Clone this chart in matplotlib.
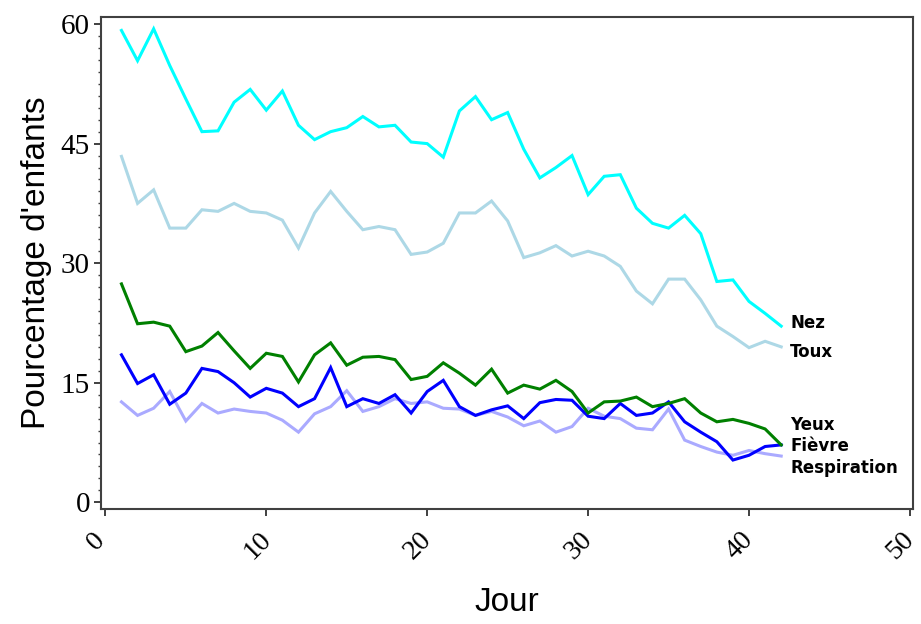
import matplotlib
matplotlib.use("Agg")
import matplotlib.pyplot as plt
from matplotlib.ticker import MultipleLocator
from matplotlib.transforms import ScaledTranslation

jours = list(range(1, 43))

nez = [59.2, 55.4, 59.4, 54.8, 50.6, 46.5, 46.6, 50.2, 51.8, 49.2,
       51.6, 47.3, 45.5, 46.5, 47.0, 48.4, 47.1, 47.3, 45.2, 45.0,
       43.3, 49.1, 50.9, 48.0, 48.9, 44.3, 40.7, 42.0, 43.5, 38.6,
       40.9, 41.1, 36.9, 35.0, 34.4, 36.0, 33.7, 27.7, 27.9, 25.2, 23.7, 22.1]
toux = [43.4, 37.5, 39.2, 34.4, 34.4, 36.7, 36.5, 37.5, 36.5, 36.3,
        35.4, 31.9, 36.3, 39.0, 36.5, 34.2, 34.6, 34.2, 31.1, 31.4,
        32.5, 36.3, 36.3, 37.8, 35.3, 30.7, 31.3, 32.2, 30.9, 31.5,
        30.9, 29.6, 26.5, 24.9, 28.0, 28.0, 25.4, 22.1, 20.8, 19.4, 20.2, 19.5]
yeux = [27.4, 22.4, 22.6, 22.1, 18.9, 19.6, 21.3, 19.0, 16.8, 18.7,
        18.3, 15.1, 18.5, 20.0, 17.2, 18.2, 18.3, 17.9, 15.4, 15.8,
        17.5, 16.2, 14.7, 16.7, 13.7, 14.7, 14.2, 15.3, 13.9, 11.2,
        12.6, 12.7, 13.2, 12.0, 12.4, 13.0, 11.2, 10.1, 10.4, 9.9, 9.2, 7.2]
fievre = [18.5, 14.9, 16.0, 12.3, 13.7, 16.8, 16.4, 15.0, 13.2, 14.3,
          13.7, 12.0, 13.0, 16.9, 12.0, 13.0, 12.4, 13.5, 11.2, 13.9,
          15.3, 12.0, 10.9, 11.6, 12.1, 10.5, 12.5, 12.9, 12.8, 10.8,
          10.5, 12.4, 10.9, 11.2, 12.6, 10.1, 8.8, 7.6, 5.3, 5.9, 7.0, 7.2]
respiration = [12.6, 10.9, 11.8, 13.9, 10.2, 12.4, 11.2, 11.7, 11.4, 11.2,
               10.3, 8.8, 11.1, 12.0, 14.0, 11.4, 12.0, 13.0, 12.4, 12.6,
               11.8, 11.7, 10.9, 11.4, 10.7, 9.6, 10.2, 8.8, 9.5, 11.8,
               10.8, 10.5, 9.3, 9.1, 11.7, 7.8, 7.0, 6.3, 5.9, 6.5, 6.1, 5.8]

series = [
    ("Toux", toux, "#ADD8E6", 18.85),
    ("Nez", nez, "#00FFFF", 22.5),
    ("Respiration", respiration, "#AAAAFF", 4.3),
    ("Fièvre", fievre, "#0000FF", 7.1),
    ("Yeux", yeux, "#008000", 9.7),
]

fig = plt.figure(figsize=(9.21, 6.24), dpi=100)
ax = fig.add_axes([0.1097, 0.1838, 0.8816, 0.7894])

for nom, vals, couleur, y_lab in series:
    ax.plot(jours, vals, color=couleur, linewidth=2.2, solid_joinstyle="miter")
    ax.text(42.55, y_lab, nom, fontsize=12, fontweight="bold",
            family="DejaVu Sans", va="center", ha="left")

ax.set_xlim(-0.27, 50.19)
ax.set_ylim(-0.88, 60.92)
ax.set_xticks([0, 10, 20, 30, 40, 50])
ax.set_yticks([0, 15, 30, 45, 60])
ax.yaxis.set_minor_locator(MultipleLocator(1.5))

for sp in ax.spines.values():
    sp.set_color("#404040")
    sp.set_linewidth(1.5)

ax.tick_params(axis="both", which="major", direction="out", length=5, width=1.2,
               color="#202020", pad=3)
ax.tick_params(axis="x", which="major", pad=8)
ax.tick_params(axis="y", which="minor", direction="out", length=2, width=1,
               color="#404040")

# petit decalage a gauche des etiquettes tournees
decal = ScaledTranslation(-9 / 100, 0, fig.dpi_scale_trans)
for lab in ax.get_xticklabels():
    lab.set_family("Liberation Serif")
    lab.set_fontsize(20)
    lab.set_rotation(45)
    lab.set_ha("center")
    lab.set_transform(lab.get_transform() + decal)
for lab in ax.get_yticklabels():
    lab.set_family("Liberation Serif")
    lab.set_fontsize(21)

ax.set_xlabel("Jour", fontsize=24, family="Liberation Sans", labelpad=16)
ax.set_ylabel("Pourcentage d'enfants", fontsize=24, family="Liberation Sans", labelpad=6)

fig.savefig("out.png", dpi=100)
